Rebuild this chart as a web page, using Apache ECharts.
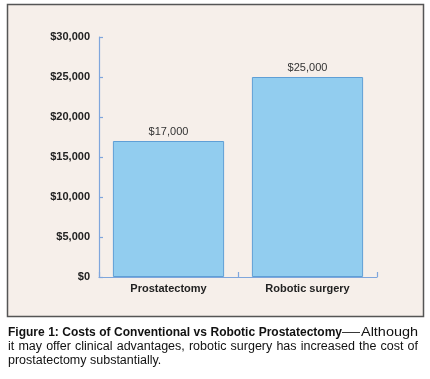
<!DOCTYPE html>
<html><head><meta charset="utf-8">
<script src="https://cdn.jsdelivr.net/npm/echarts@6/dist/echarts.min.js"></script>
<style>html,body{margin:0;padding:0;background:#fff}#c{width:430px;height:379px}</style>
</head><body><div id="c"></div>
<script>
const categories = ['Prostatectomy', 'Robotic surgery'];
const costs = [17000, 25000];
const yTicks = [0, 5000, 10000, 15000, 20000, 25000, 30000];
const captionBold = 'Figure 1: Costs of Conventional vs Robotic Prostatectomy';
const captionDash = '—';
const captionLines = ['Although', 'it may offer clinical advantages, robotic surgery has increased the cost of', 'prostatectomy substantially.'];

const fmt = v => '$' + v.toLocaleString('en-US');
const font = 'Liberation Sans, Arial, Helvetica, sans-serif';
const BOLD_SIZE = 12, NORM_SIZE = 12.5;
const ctx = document.createElement('canvas').getContext('2d');
function measure(t, bold) {
  ctx.font = (bold ? 'bold ' : '') + (bold ? BOLD_SIZE : NORM_SIZE) + 'px ' + font;
  return ctx.measureText(t).width;
}
const rich = {
  b: {fontWeight: 'bold', fontSize: BOLD_SIZE, fontFamily: font, fill: '#111', lineHeight: 14},
  n: {fontSize: NORM_SIZE, fontFamily: font, fill: '#111', lineHeight: 14}
};
function justifyLine(words, bold, x0, x1, top) {
  const widths = words.map(w => measure(w, bold));
  const total = widths.reduce((a, b) => a + b, 0);
  const gap = words.length > 1 ? (x1 - x0 - total) / (words.length - 1) : 0;
  let x = x0;
  return words.map((w, i) => {
    const el = {type: 'text', x: x, y: top, style: {text: '{' + (bold ? 'b' : 'n') + '|' + w + '}', rich: rich}};
    x += widths[i] + gap;
    return el;
  });
}
const dashW = measure(captionDash, false);
const althW = measure(captionLines[0], false);
const graphics = [
  {type: 'rect', shape: {x: 7.5, y: 4.5, width: 416, height: 312}, style: {fill: '#f6efea', stroke: '#555555', lineWidth: 1.5}, z: -10}
].concat(justifyLine(captionBold.split(' '), true, 8, 342, 326))
 .concat([
   {type: 'text', x: 342, y: 326, scaleX: 18 / dashW, style: {text: '{n|' + captionDash + '}', rich: rich}},
   {type: 'text', x: 361, y: 326, scaleX: 57 / althW, style: {text: '{n|' + captionLines[0] + '}', rich: rich}}
 ])
 .concat(justifyLine(captionLines[1].split(' '), false, 8, 418, 340))
 .concat([{type: 'text', x: 8, y: 354, style: {text: '{n|' + captionLines[2] + '}', rich: rich}}]);

const chart = echarts.init(document.getElementById('c'), null, {renderer: 'canvas'});
chart.setOption({
  animation: false,
  backgroundColor: '#ffffff',
  graphic: graphics,
  grid: {left: 99, right: 53, top: 37, bottom: 102, containLabel: false},
  xAxis: {
    type: 'category', data: categories,
    axisLine: {lineStyle: {color: '#7fa6dc', width: 1.2}},
    axisTick: {show: true, inside: true, length: 5, lineStyle: {color: '#7fa6dc', width: 1.2}},
    axisLabel: {color: '#222', fontWeight: 'bold', fontSize: 11, fontFamily: font, margin: 6}
  },
  yAxis: {
    type: 'value', min: yTicks[0], max: yTicks[yTicks.length - 1], interval: 5000,
    axisLine: {show: true, lineStyle: {color: '#7fa6dc', width: 1.2}},
    axisTick: {show: true, inside: true, length: 4, lineStyle: {color: '#7fa6dc', width: 1.2}},
    splitLine: {show: false},
    axisLabel: {color: '#222', fontWeight: 'bold', fontSize: 11, fontFamily: font, margin: 9, formatter: fmt}
  },
  series: [{
    type: 'bar', data: costs, barCategoryGap: '20%',
    itemStyle: {color: '#92cdef', borderColor: '#5f9fd6', borderWidth: 1},
    label: {show: true, position: 'top', distance: 4, color: '#333', fontSize: 11, fontFamily: font, formatter: p => fmt(p.value)}
  }]
});
</script></body></html>
